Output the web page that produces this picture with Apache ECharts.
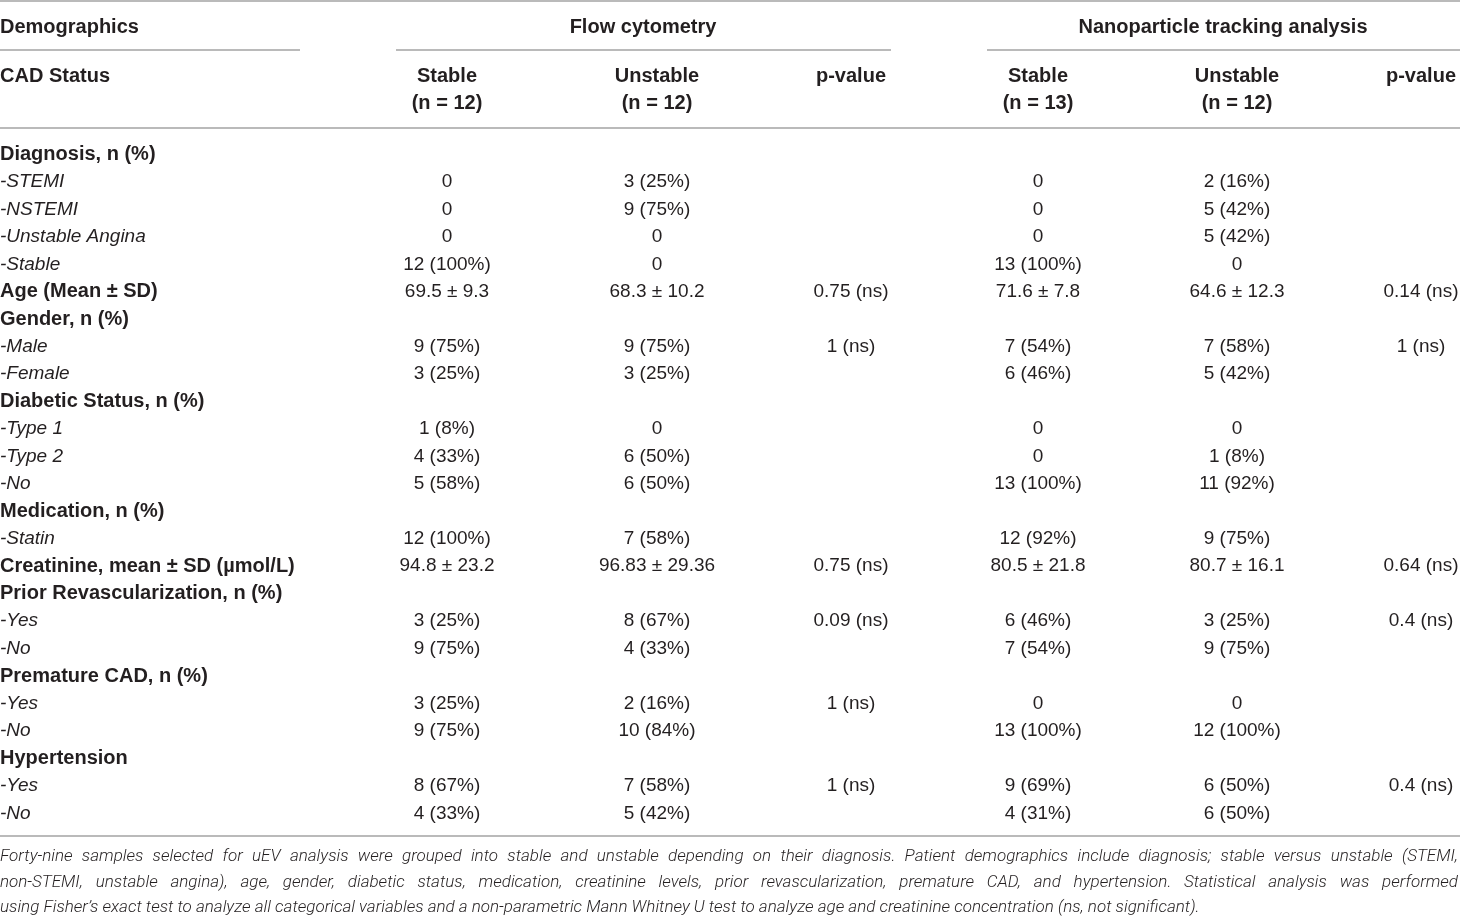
<!DOCTYPE html>
<html lang="en" style="height: 100%">
<head>
  <meta charset="UTF-8">
  <title>CAD demographics</title>
  <script src="https://cdn.jsdelivr.net/npm/echarts@6.0.0/dist/echarts.min.js"></script>
</head>
<body style="height: 100%; margin: 0; background: #fff">
  <div id="container" style="width: 1460px; height: 919px"></div>
  <script>
    // table content
    var groupTitles = ['Demographics', 'Flow cytometry', 'Nanoparticle tracking analysis'];
    var colTitles = ['Stable', 'Unstable', 'p-value', 'Stable', 'Unstable', 'p-value'];
    var colCounts = ['(n = 12)', '(n = 12)', '', '(n = 13)', '(n = 12)', ''];
    var rowLabels = ['Diagnosis, n (%)', '-STEMI', '-NSTEMI', '-Unstable Angina', '-Stable',
      'Age (Mean ± SD)', 'Gender, n (%)', '-Male', '-Female', 'Diabetic Status, n (%)',
      '-Type 1', '-Type 2', '-No', 'Medication, n (%)', '-Statin',
      'Creatinine, mean ± SD (µmol/L)', 'Prior Revascularization, n (%)', '-Yes', '-No',
      'Premature CAD, n (%)', '-Yes', '-No', 'Hypertension', '-Yes', '-No'];
    var fcStable = ['', '0', '0', '0', '12 (100%)', '69.5 ± 9.3', '', '9 (75%)', '3 (25%)', '',
      '1 (8%)', '4 (33%)', '5 (58%)', '', '12 (100%)', '94.8 ± 23.2', '', '3 (25%)', '9 (75%)',
      '', '3 (25%)', '9 (75%)', '', '8 (67%)', '4 (33%)'];
    var fcUnstable = ['', '3 (25%)', '9 (75%)', '0', '0', '68.3 ± 10.2', '', '9 (75%)', '3 (25%)', '',
      '0', '6 (50%)', '6 (50%)', '', '7 (58%)', '96.83 ± 29.36', '', '8 (67%)', '4 (33%)',
      '', '2 (16%)', '10 (84%)', '', '7 (58%)', '5 (42%)'];
    var fcP = ['', '', '', '', '', '0.75 (ns)', '', '1 (ns)', '', '',
      '', '', '', '', '', '0.75 (ns)', '', '0.09 (ns)', '',
      '', '1 (ns)', '', '', '1 (ns)', ''];
    var ntaStable = ['', '0', '0', '0', '13 (100%)', '71.6 ± 7.8', '', '7 (54%)', '6 (46%)', '',
      '0', '0', '13 (100%)', '', '12 (92%)', '80.5 ± 21.8', '', '6 (46%)', '7 (54%)',
      '', '0', '13 (100%)', '', '9 (69%)', '4 (31%)'];
    var ntaUnstable = ['', '2 (16%)', '5 (42%)', '5 (42%)', '0', '64.6 ± 12.3', '', '7 (58%)', '5 (42%)', '',
      '0', '1 (8%)', '11 (92%)', '', '9 (75%)', '80.7 ± 16.1', '', '3 (25%)', '9 (75%)',
      '', '0', '12 (100%)', '', '6 (50%)', '6 (50%)'];
    var ntaP = ['', '', '', '', '', '0.14 (ns)', '', '1 (ns)', '', '',
      '', '', '', '', '', '0.64 (ns)', '', '0.4 (ns)', '',
      '', '', '', '', '0.4 (ns)', ''];
    var footnote = [
      'Forty-nine samples selected for uEV analysis were grouped into stable and unstable depending on their diagnosis. Patient demographics include diagnosis; stable versus unstable (STEMI,',
      'non-STEMI, unstable angina), age, gender, diabetic status, medication, creatinine levels, prior revascularization, premature CAD, and hypertension. Statistical analysis was performed',
      'using Fisher\u2019s exact test to analyze all categorical variables and a non-parametric Mann Whitney U test to analyze age and creatinine concentration (ns, not significant).'
    ];

    var W = 1460;
    var FONT = '"Liberation Sans", Arial, sans-serif';
    var NOTE_FONT = 'Roboto, "Liberation Sans", sans-serif';
    var TXT = '#231f20';
    var RULE = '#a3a3a3';
    var BOLD_SIZE = 20, BODY_SIZE = 19;
    var colX = [447, 657, 851, 1038, 1237, 1421];
    var rowTop = 154.5, rowStep = 27.45;

    var dom = document.getElementById('container');
    var myChart = echarts.init(dom);
    var els = [];

    function text(x, y, s, align, weight, style, size, family) {
      els.push({
        type: 'text', x: x, y: y, silent: true,
        style: {
          text: s, fill: TXT,
          font: (style || 'normal') + ' ' + (weight || 'normal') + ' ' + (size || BODY_SIZE) + 'px ' + (family || FONT),
          align: align || 'left', verticalAlign: 'middle'
        }
      });
    }
    function bold(x, y, s, align) {
      text(x, y, s, align, 'bold', 'normal', BOLD_SIZE);
    }
    function rule(x1, x2, y) {
      els.push({
        type: 'line', silent: true,
        shape: { x1: x1, y1: y, x2: x2, y2: y },
        style: { stroke: RULE, lineWidth: 1.5 }
      });
    }

    // rules
    rule(0, W, 1);
    rule(0, 300, 50);
    rule(396, 891, 50);
    rule(987, W, 50);
    rule(0, W, 128);
    rule(0, W, 836);

    // header
    bold(0, 27.5, groupTitles[0], 'left');
    bold(643, 27.5, groupTitles[1], 'center');
    bold(1223, 27.5, groupTitles[2], 'center');
    bold(0, 76.5, 'CAD Status', 'left');
    colTitles.forEach(function (t, i) {
      bold(colX[i], 76.5, t, 'center');
      if (colCounts[i]) bold(colX[i], 103.5, colCounts[i], 'center');
    });

    // body
    var cols = [fcStable, fcUnstable, fcP, ntaStable, ntaUnstable, ntaP];
    rowLabels.forEach(function (lab, r) {
      var y = rowTop + r * rowStep;
      if (lab.charAt(0) === '-') text(0, y, lab, 'left', 'normal', 'italic');
      else bold(0, y, lab, 'left');
      cols.forEach(function (c, i) {
        if (c[r]) text(colX[i], y, c[r], 'center');
      });
    });

    // footnote, justified to full width (last line left aligned)
    var ctx = document.createElement('canvas').getContext('2d');
    ctx.font = 'italic 300 17px ' + NOTE_FONT;
    footnote.forEach(function (line, li) {
      var y = 857 + li * 25.5;
      if (li === footnote.length - 1) {
        text(0, y, line, 'left', 300, 'italic', 17, NOTE_FONT);
        return;
      }
      var words = line.split(' ');
      var widths = words.map(function (w) { return ctx.measureText(w).width; });
      var total = widths.reduce(function (a, b) { return a + b; }, 0);
      var gap = (W - 2 - total) / (words.length - 1);
      var x = 0;
      words.forEach(function (w, k) {
        text(x, y, w, 'left', 300, 'italic', 17, NOTE_FONT);
        x += widths[k] + gap;
      });
    });

    myChart.setOption({
      animation: false,
      graphic: { elements: els }
    });
  </script>
</body>
</html>
